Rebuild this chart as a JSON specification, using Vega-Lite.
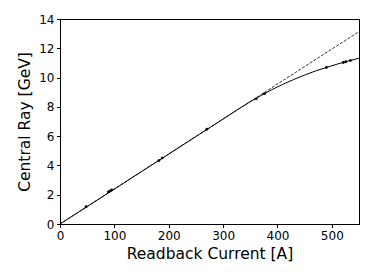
{
  "$schema": "https://vega.github.io/schema/vega-lite/v6.json",
  "autosize": "none",
  "width": 299,
  "height": 205,
  "padding": {"left": 60, "top": 19, "right": 15, "bottom": 56},
  "background": "white",
  "config": {
    "view": {"stroke": "black", "strokeWidth": 1},
    "font": "DejaVu Sans",
    "axis": {
      "grid": false,
      "domainColor": "black",
      "domainWidth": 1,
      "tickColor": "black",
      "tickSize": 3.5,
      "tickWidth": 1,
      "labelColor": "black",
      "labelFont": "DejaVu Sans",
      "labelFontSize": 12,
      "labelOverlap": false,
      "labelFlush": false,
      "titleFont": "DejaVu Sans",
      "titleFontSize": 15.5,
      "titleFontWeight": "normal",
      "titleColor": "black",
      "labelPadding": 2.5
    }
  },
  "datasets": {
    "linear": [
      {"current": 0, "energy": 0},
      {"current": 550, "energy": 13.14}
    ],
    "curve": [
      {"current": 0, "energy": 0},
      {"current": 300, "energy": 7.17},
      {"current": 330, "energy": 7.89},
      {"current": 350, "energy": 8.35},
      {"current": 370, "energy": 8.78},
      {"current": 390, "energy": 9.18},
      {"current": 410, "energy": 9.54},
      {"current": 430, "energy": 9.87},
      {"current": 450, "energy": 10.17},
      {"current": 470, "energy": 10.45},
      {"current": 490, "energy": 10.69},
      {"current": 510, "energy": 10.92},
      {"current": 530, "energy": 11.13},
      {"current": 550, "energy": 11.32}
    ],
    "measured": [
      {"current": 48, "energy": 1.18},
      {"current": 89, "energy": 2.19},
      {"current": 92, "energy": 2.25},
      {"current": 95, "energy": 2.32},
      {"current": 182, "energy": 4.33},
      {"current": 188, "energy": 4.5},
      {"current": 270, "energy": 6.47},
      {"current": 361, "energy": 8.55},
      {"current": 376, "energy": 8.9},
      {"current": 490, "energy": 10.69},
      {"current": 521, "energy": 11.03},
      {"current": 526, "energy": 11.08},
      {"current": 534, "energy": 11.16}
    ]
  },
  "encoding": {
    "x": {"field": "current", "type": "quantitative", "scale": {"domain": [0, 550], "nice": false}, "axis": {"values": [0, 100, 200, 300, 400, 500], "title": "Readback Current [A]", "titlePadding": 5}},
    "y": {"field": "energy", "type": "quantitative", "scale": {"domain": [0, 14], "nice": false}, "axis": {"values": [0, 2, 4, 6, 8, 10, 12, 14], "title": "Central Ray [GeV]", "titlePadding": 6}}
  },
  "layer": [
    {
      "data": {"name": "linear"},
      "mark": {"type": "line", "color": "black", "strokeWidth": 0.8, "strokeDash": [3, 1.5], "clip": true}
    },
    {
      "data": {"name": "curve"},
      "mark": {"type": "line", "color": "black", "strokeWidth": 1, "interpolate": "monotone", "clip": true}
    },
    {
      "data": {"name": "measured"},
      "mark": {"type": "point", "filled": true, "color": "black", "size": 8, "opacity": 1}
    }
  ]
}
